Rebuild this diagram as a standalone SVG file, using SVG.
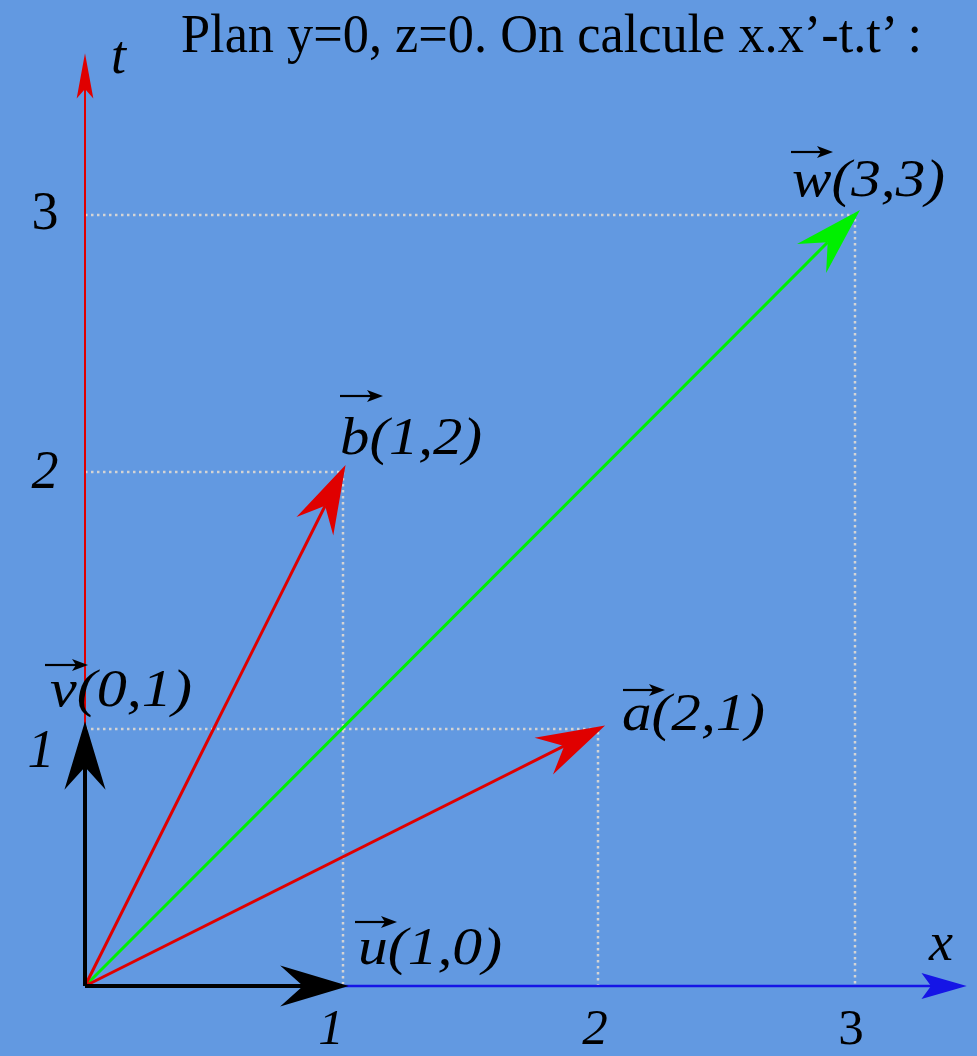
<svg xmlns="http://www.w3.org/2000/svg" width="977" height="1056" viewBox="0 0 977 1056">
<style>
.grid{stroke:#d4d4d4;stroke-width:2.5;stroke-dasharray:2.5 3.5;fill:none}
.serif{font-family:'Liberation Serif','Times New Roman',Tinos,'Nimbus Roman',Times,serif;fill:#000}
.lbl{font-style:italic;font-size:52px}
.num{font-size:54px}
.numi{font-style:italic;font-size:54px}
.bot{font-size:51px}
.title{font-size:55px}
.vecbar{stroke:#000;stroke-width:2.2;fill:none}
</style>
<defs>
<marker id="hBlack" markerUnits="userSpaceOnUse" markerWidth="80" markerHeight="60" viewBox="-25 -25 70 50" refX="0" refY="0" orient="auto" overflow="visible">
<path d="M40,0 L-20,-18 L0,0 L-20,18 Z" fill="#000"/>
</marker>
<marker id="hRed" markerUnits="userSpaceOnUse" markerWidth="80" markerHeight="60" viewBox="-25 -25 70 50" refX="0" refY="0" orient="auto" overflow="visible">
<path d="M40,0 L-20,-18 L0,0 L-20,18 Z" fill="#e00000"/>
</marker>
<marker id="hGreen" markerUnits="userSpaceOnUse" markerWidth="80" markerHeight="60" viewBox="-25 -25 70 50" refX="0" refY="0" orient="auto" overflow="visible">
<path d="M40,0 L-20,-18 L0,0 L-20,18 Z" fill="#00f000"/>
</marker>
<marker id="hBlue" markerUnits="userSpaceOnUse" markerWidth="50" markerHeight="30" viewBox="-10 -12 42 24" refX="0" refY="0" orient="auto" overflow="visible">
<path d="M30,0 L-8,-11 L0,0 L-8,11 Z" fill="#1515e6"/>
</marker>
<marker id="hAxisRed" markerUnits="userSpaceOnUse" markerWidth="50" markerHeight="30" viewBox="-10 -12 42 24" refX="0" refY="0" orient="auto" overflow="visible">
<path d="M30,0 L-8,-7 L0,0 L-8,7 Z" fill="#e00000"/>
</marker>
<marker id="hSmall" markerUnits="userSpaceOnUse" markerWidth="20" markerHeight="16" viewBox="-2 -8 18 16" refX="0" refY="0" orient="auto" overflow="visible">
<path d="M12,0 L-4,-6 L0,0 L-4,6 Z" fill="#000"/>
</marker>
</defs>
<rect x="0" y="0" width="977" height="1056" fill="#6299e1"/>

<g id="grid">
<path class="grid" d="M85,215 H855 V986"/>
<path class="grid" d="M85,472 H343 V986"/>
<path class="grid" d="M85,729 H598 V986"/>
</g>

<g id="connectors">
<line id="axis-x" x1="343" y1="986" x2="931" y2="986" stroke="#1515e6" stroke-width="2.5" marker-end="url(#hBlue)"/>
<line id="axis-t" x1="85" y1="986" x2="85" y2="89" stroke="#e00000" stroke-width="2" marker-end="url(#hAxisRed)"/>
<line id="vec-w" x1="85" y1="986" x2="827.7" y2="242.3" stroke="#00f000" stroke-width="3" marker-end="url(#hGreen)"/>
<line id="vec-b" x1="85" y1="986" x2="325.1" y2="505.8" stroke="#e00000" stroke-width="3" marker-end="url(#hRed)"/>
<line id="vec-a" x1="85" y1="986" x2="564.2" y2="745.9" stroke="#e00000" stroke-width="3" marker-end="url(#hRed)"/>
<line id="vec-u" x1="85" y1="986" x2="303" y2="986" stroke="#000" stroke-width="4" marker-end="url(#hBlack)"/>
<line id="vec-v" x1="85" y1="986" x2="85" y2="767" stroke="#000" stroke-width="4" marker-end="url(#hBlack)"/>
</g>

<g id="title">
<text class="serif title" x="181" y="52" textLength="741" lengthAdjust="spacingAndGlyphs">Plan y=0, z=0. On calcule x.x’-t.t’ :</text>
</g>

<g id="label-t"><text class="serif numi" x="111" y="73" font-size="50">t</text></g>
<g id="label-x"><text class="serif numi" x="929" y="960" font-size="56">x</text></g>

<g id="tick-t3"><text class="serif num" x="45" y="229" text-anchor="middle">3</text></g>
<g id="tick-t2"><text class="serif numi" x="45" y="488" text-anchor="middle">2</text></g>
<g id="tick-t1"><text class="serif numi" x="41" y="767" text-anchor="middle">1</text></g>
<g id="tick-x1"><text class="serif numi bot" x="331" y="1044" text-anchor="middle">1</text></g>
<g id="tick-x2"><text class="serif numi bot" x="595" y="1044" text-anchor="middle">2</text></g>
<g id="tick-x3"><text class="serif num bot" x="851" y="1044" text-anchor="middle">3</text></g>

<g id="label-w">
<line class="vecbar" x1="791" y1="152" x2="821" y2="152" marker-end="url(#hSmall)"/>
<text class="serif lbl" x="792" y="196" textLength="153" lengthAdjust="spacingAndGlyphs">w(3,3)</text>
</g>
<g id="label-b">
<line class="vecbar" x1="340" y1="396" x2="371" y2="396" marker-end="url(#hSmall)"/>
<text class="serif lbl" x="340" y="454" textLength="142" lengthAdjust="spacingAndGlyphs">b(1,2)</text>
</g>
<g id="label-v">
<line class="vecbar" x1="45" y1="665" x2="76" y2="665" marker-end="url(#hSmall)"/>
<text class="serif lbl" x="50" y="706" textLength="142" lengthAdjust="spacingAndGlyphs">v(0,1)</text>
</g>
<g id="label-a">
<line class="vecbar" x1="623" y1="690" x2="653" y2="690" marker-end="url(#hSmall)"/>
<text class="serif lbl" x="622" y="730" textLength="143" lengthAdjust="spacingAndGlyphs">a(2,1)</text>
</g>
<g id="label-u">
<line class="vecbar" x1="355" y1="922" x2="385" y2="922" marker-end="url(#hSmall)"/>
<text class="serif lbl" x="358" y="964" textLength="144" lengthAdjust="spacingAndGlyphs">u(1,0)</text>
</g>
</svg>
